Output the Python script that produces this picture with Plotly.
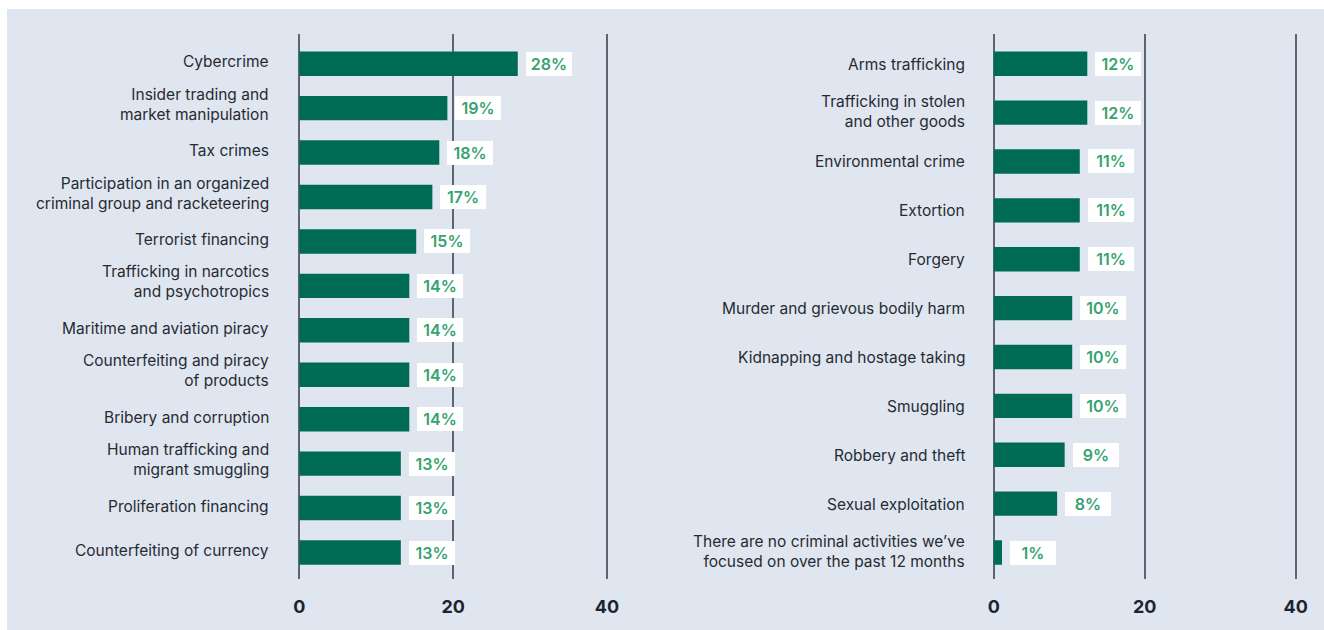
import plotly.graph_objects as go

left_categories = [
    "Cybercrime",
    "Insider trading and<br>market manipulation",
    "Tax crimes",
    "Participation in an organized<br>criminal group and racketeering",
    "Terrorist financing",
    "Trafficking in narcotics<br>and psychotropics",
    "Maritime and aviation piracy",
    "Counterfeiting and piracy<br>of products",
    "Bribery and corruption",
    "Human trafficking and<br>migrant smuggling",
    "Proliferation financing",
    "Counterfeiting of currency",
]
left_values = [28.4, 19.25, 18.2, 17.3, 15.2, 14.3, 14.3, 14.3, 14.3, 13.2, 13.2, 13.2]

right_categories = [
    "Arms trafficking",
    "Trafficking in stolen<br>and other goods",
    "Environmental crime",
    "Extortion",
    "Forgery",
    "Murder and grievous bodily harm",
    "Kidnapping and hostage taking",
    "Smuggling",
    "Robbery and theft",
    "Sexual exploitation",
    "There are no criminal activities we’ve<br>focused on over the past 12 months",
]
right_values = [12.4, 12.4, 11.4, 11.4, 11.4, 10.4, 10.4, 10.4, 9.4, 8.4, 1.1]

x_ticks = [0, 20, 40]
x_ticktext = ["0", "20", "40"]

BG = "#dfe6f0"
BAR = "#006b55"
LABEL_GREEN = "#36a270"
GRID = "#5e6570"
TEXT = "#272b32"
W, H = 1324, 630
XMIN, XMAX, EPS = 0, 40, 0.15


def domain_for(px0, px40):
    scale = (px40 - px0) / (XMAX - XMIN)
    return [(px0 - EPS * scale) / W, (px40 + EPS * scale) / W]


fig = go.Figure()

panels = [
    # axis ids, categories, values, bar width, label shift (single, multi), label gap
    ("x", "y", left_categories, left_values, 0.55, (2, 4), -28),
    ("x2", "y2", right_categories, right_values, 0.50, (-0.5, 1), -27),
]

for xa, ya, cats, vals, bw, shifts, gap in panels:
    idx = list(range(len(cats)))
    fig.add_trace(go.Bar(
        x=vals, y=idx, orientation="h", xaxis=xa, yaxis=ya,
        marker=dict(color=BAR, line=dict(width=0)), width=bw,
        hoverinfo="skip", showlegend=False,
    ))
    for i, v in zip(idx, vals):
        fig.add_annotation(
            x=v, y=i, xref=xa, yref=ya, xanchor="left", yanchor="middle",
            xshift=8, text=f"{round(v):d}%", showarrow=False,
            width=40, height=18, borderpad=3, borderwidth=0,
            bgcolor="white", align="center",
            font=dict(family="Inter", size=16, color=LABEL_GREEN, weight=600),
        )
    for i, c in zip(idx, cats):
        multi = "<br>" in c
        fig.add_annotation(
            x=0, y=i, xref=xa, yref=ya, xanchor="right", yanchor="middle",
            xshift=gap, yshift=shifts[1] if multi else shifts[0],
            text=c, showarrow=False,
            align="right", font=dict(family="Inter", size=15.5, color=TEXT),
        )

ydom = [1 - 579 / H, 1 - 34 / H]

axis_common_x = dict(
    range=[XMIN - EPS, XMAX + EPS], tickvals=x_ticks, ticktext=x_ticktext,
    showgrid=True, gridcolor=GRID, gridwidth=1.5,
    zeroline=False, showline=False, ticks="",
    tickfont=dict(family="Inter", size=18, color="#1c2430", weight=700),
    ticklabelstandoff=15, fixedrange=True, automargin=False,
)

axis_common_y = dict(
    showgrid=False, zeroline=False, showline=False, ticks="",
    showticklabels=False, automargin=False,
)

fig.update_layout(
    width=W, height=H,
    margin=dict(l=0, r=0, t=0, b=0),
    paper_bgcolor=BG, plot_bgcolor=BG,
    xaxis=dict(domain=domain_for(299.3, 607), anchor="y", **axis_common_x),
    xaxis2=dict(domain=domain_for(993.7, 1295.7), anchor="y2", **axis_common_x),
    yaxis=dict(domain=ydom, anchor="x",
               range=[len(left_categories) - 1 + 0.596, -0.668], **axis_common_y),
    yaxis2=dict(domain=ydom, anchor="x2",
                range=[len(right_categories) - 1 + 0.542, -0.608], **axis_common_y),
    shapes=[
        dict(type="rect", xref="paper", yref="paper", x0=-0.01, x1=1.01,
             y0=1 - 9 / H, y1=1.01, fillcolor="white", line=dict(width=0), layer="below"),
        dict(type="rect", xref="paper", yref="paper", x0=-0.01, x1=7 / W,
             y0=-0.01, y1=1.01, fillcolor="white", line=dict(width=0), layer="below"),
    ],
)

fig.write_html("out.html")
